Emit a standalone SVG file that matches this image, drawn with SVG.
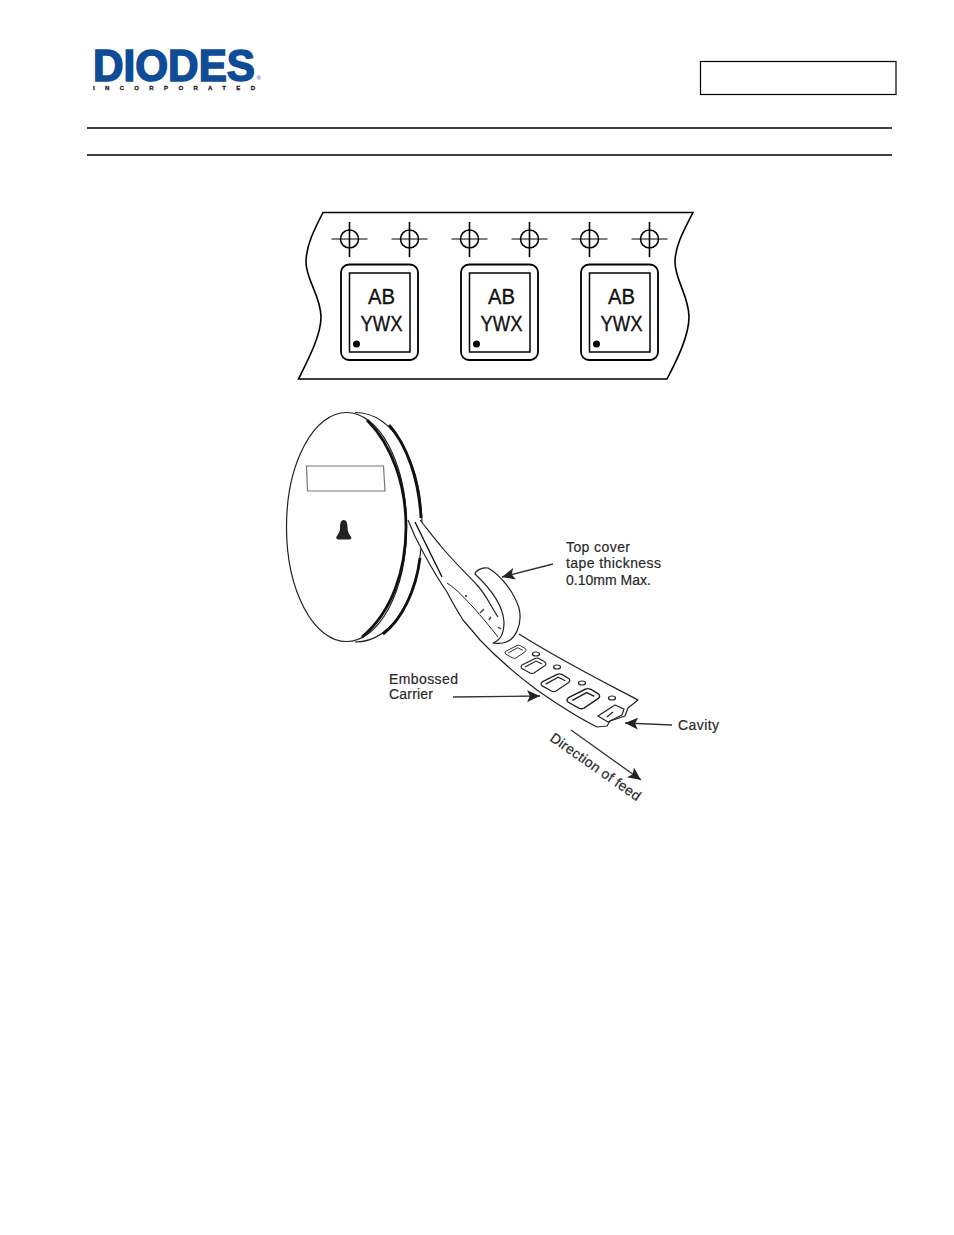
<svg xmlns="http://www.w3.org/2000/svg" width="954" height="1235" viewBox="0 0 954 1235">
<style>
text{font-family:"Liberation Sans",Arial,sans-serif}
.l{fill:none;stroke:#000;stroke-width:1.6}
.t{fill:none;stroke:#222;stroke-width:1.2;stroke-linejoin:round}
.w{fill:#fff;stroke:#222;stroke-width:1.2;stroke-linejoin:round}
.lab{font-size:14px;fill:#2a2a2a;stroke:#2a2a2a;stroke-width:.2}
.mk{font-size:22px;fill:#111;stroke:#111;stroke-width:.35;text-anchor:middle}
.a{fill:none;stroke:#333;stroke-width:1.3;marker-end:url(#ah)}
</style>
<defs>
<marker id="ah" markerUnits="userSpaceOnUse" markerWidth="14" markerHeight="12" refX="13" refY="6" orient="auto"><path d="M0 0L13 6L0 12L3 6Z" fill="#222"/></marker>
<g id="reg"><circle r="9" fill="none" stroke="#000" stroke-width="1.5"/><path d="M-18 0H18" stroke="#000" stroke-width="1"/><path d="M0-17V18" stroke="#000" stroke-width="1.6"/></g>
<g id="pkg"><rect x="341" y="264.500" width="77" height="95.500" rx="8" fill="none" stroke="#000" stroke-width="1.800"/><rect x="349.500" y="273" width="60.500" height="79" fill="none" stroke="#000" stroke-width="1.500"/><circle cx="356.500" cy="344" r="3.500" fill="#000"/></g>
<path id="cav" d="M-12-1L1-7.500Q3-8.500 5-7.500L11-4Q13-2 11-.5L0 7Q-2 8-4 7L-12 2.500Q-14 1-12-1ZM-9 1L2-5 8-2" fill="#fff" stroke="#222" stroke-width="1.100"/>
</defs>
<rect width="954" height="1235" fill="#fff"/>
<g id="logo">
<text x="93" y="81" font-size="44" font-weight="700" fill="#0f4c97" stroke="#0f4c97" stroke-width="1.600" textLength="162" lengthAdjust="spacingAndGlyphs">DIODES</text>
<text x="256.500" y="80" font-size="6" fill="#0f4c97">®</text>
<text x="93" y="90" font-size="6" font-weight="700" fill="#222" stroke="#222" stroke-width=".3" textLength="162">INCORPORATED</text>
</g>
<rect id="title-box" x="700.500" y="61.500" width="195.500" height="33" fill="none" stroke="#000" stroke-width="1.200"/>
<path id="rules" d="M87 128H892M87 155H892" stroke="#000" stroke-width="1.600"/>
<g id="tape-strip">
<path class="l" d="M323 212.500H693C684 230 675 246 675 262C675 280 689 296 689 317C689 335 678 358 667 379H298.500C309 358 321 335 321 317C321 296 306 280 306 262C306 246 314 230 323 212.500Z"/>
<use href="#reg" x="349.500" y="239"/><use href="#reg" x="409.500" y="239"/><use href="#reg" x="469.500" y="239"/><use href="#reg" x="529.500" y="239"/><use href="#reg" x="589.500" y="239"/><use href="#reg" x="649.500" y="239"/>
<use href="#pkg"/><use href="#pkg" x="120"/><use href="#pkg" x="240"/>
<text class="mk" x="381.500" y="304" textLength="27" lengthAdjust="spacingAndGlyphs">AB</text><text class="mk" x="381.500" y="331" textLength="42" lengthAdjust="spacingAndGlyphs">YWX</text>
<text class="mk" x="501.500" y="304" textLength="27" lengthAdjust="spacingAndGlyphs">AB</text><text class="mk" x="501.500" y="331" textLength="42" lengthAdjust="spacingAndGlyphs">YWX</text>
<text class="mk" x="621.500" y="304" textLength="27" lengthAdjust="spacingAndGlyphs">AB</text><text class="mk" x="621.500" y="331" textLength="42" lengthAdjust="spacingAndGlyphs">YWX</text>
</g>
<g id="reel">
<path d="M355 412.500C395 412.500 422 465 422 527C422 590 395 642 355 642" fill="#fff" stroke="#222" stroke-width="1.200"/>
<path d="M389 425C407 445 419 480 421 518" fill="none" stroke="#111" stroke-width="2.800"/>
<path d="M420 558C416 590 402 620 383 634" fill="none" stroke="#111" stroke-width="2.800"/>
<ellipse cx="346.500" cy="527" rx="60" ry="114.500" fill="#fff" stroke="#222" stroke-width="1.200"/>
<path d="M367 420C392 445 406 485 406 527C406 570 392 612 362 637" fill="none" stroke="#111" stroke-width="2.800"/>
<path d="M306.500 466H383.500L385 491H307.500Z" fill="#fff" stroke="#777" stroke-width="1.200"/>
<path d="M343.700 520C347 520 347.500 524 347.500 528C347.500 533 351 536 351.500 538L350 539.500H338L336 538C337 535 340 533 340 528C340 524 340.500 520 343.700 520Z" fill="#222"/>
</g>
<g id="carrier">
<path fill="#fff" d="M408 520C413 533 418 543 423 552C430 565 438 579 447 592C452 602 458 612 463 620C470 628 475 634 480 640C497 658 517 675 537 690C557 704 577 717 597 727L607 726 610 721 625 716 628 708 638 700C600 680 560 660 519 634L498 617C490 605 487 596 477 585C465 572 452 560 440 545C434 538 428 530 420 520Z"/>
<path class="t" d="M408 520C413 533 418 543 423 552C430 565 438 579 447 592C452 602 458 612 463 620C470 628 475 634 480 640C497 658 517 675 537 690C557 704 577 717 597 727L607 726 610 721 625 716 628 708 638 700C600 680 560 660 519 634"/>
<path class="t" d="M420 520C428 530 434 538 440 545C452 560 465 572 477 585C487 596 490 605 498 617"/>
<path d="M415 522L442 577" stroke="#111" stroke-width="1.400" fill="none"/>
<path class="t" d="M447 583C458 590 466 600 473 607C482 617 490 627 498 637" style="stroke-width:1"/>
<circle cx="466" cy="596" r="1" fill="#222"/>
<path d="M480 613l4-4M489 620l2-3M498 627l3 2" stroke="#444" stroke-width="1.500"/>
<path class="w" d="M475 574C476 570 483 567 488 568C500 575 513 590 519 608C523 625 515 641 503 643C497 644 495 643 493 643C500 640 504 635 504 622C503 605 490 588 475 574Z"/>
<use href="#cav" transform="translate(516 652) scale(.85)"/>
<use href="#cav" transform="translate(534 666) scale(1)"/>
<use href="#cav" transform="translate(556 683) scale(1.150)"/>
<use href="#cav" transform="translate(584 699) scale(1.300)"/>
<ellipse cx="536" cy="654" rx="3.500" ry="2" class="t"/>
<ellipse cx="557" cy="667" rx="3.500" ry="2" class="t"/>
<ellipse cx="582" cy="683" rx="3.500" ry="2" class="t"/>
<ellipse cx="612" cy="698" rx="3.500" ry="2" class="t"/>
<path class="t" d="M598 716L615 705 624 709 622 715 608 722Z"/>
<path class="t" d="M607 717L613 712"/>
</g>
<g id="connectors">
<path class="a" d="M553 564L502 577"/>
<path class="a" d="M453 697L540 696"/>
<path class="a" d="M672 725L625 723"/>
<path class="a" d="M571 730L641 780"/>
</g>
<g id="labels">
<text class="lab" x="566" y="552" textLength="64">Top cover</text>
<text class="lab" x="566" y="568" textLength="95">tape thickness</text>
<text class="lab" x="566" y="585" textLength="85">0.10mm Max.</text>
<text class="lab" x="389" y="684" textLength="69">Embossed</text>
<text class="lab" x="389" y="699" textLength="44">Carrier</text>
<text class="lab" x="678" y="730" textLength="41">Cavity</text>
<text class="lab" transform="translate(549 740) rotate(35)" textLength="107">Direction of feed</text>
</g>
</svg>
